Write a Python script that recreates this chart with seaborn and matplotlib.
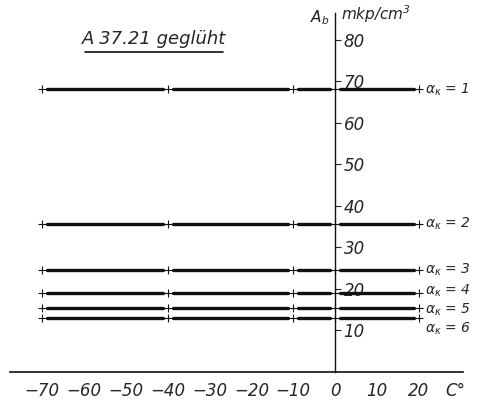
import pandas as pd
import matplotlib.pyplot as plt
import seaborn as sns
from matplotlib.lines import Line2D

# data
temps = [-70, -40, -10, 0, 20]            # measuring temperatures, C°
impact = [68, 35.7, 24.5, 19, 15.5, 13]   # A_b in mkp/cm3
alpha_k = [1, 2, 3, 4, 5, 6]
x_ticks = [-70, -60, -50, -40, -30, -20, -10, 0, 10, 20]
y_ticks = [10, 20, 30, 40, 50, 60, 70, 80]

sns.set_style('white')
plt.rcParams['font.family'] = ['DejaVu Sans']
plt.rcParams['font.style'] = 'italic'
plt.rcParams['mathtext.default'] = 'it'

# split each line into pieces between the measuring points (small gap at each +)
gap = 1.2
rows = []
for a, val in zip(alpha_k, impact):
    for i in range(len(temps) - 1):
        seg = f'{a}-{i}'
        rows.append({'T': temps[i] + gap, 'A': val, 'seg': seg})
        rows.append({'T': temps[i + 1] - gap, 'A': val, 'seg': seg})
seg_df = pd.DataFrame(rows)
pts = pd.DataFrame([{'T': t, 'A': val} for val in impact for t in temps])

fig = plt.figure(figsize=(4.79, 4.05), dpi=100)
ax = fig.add_axes([10 / 479, 33 / 405, 453 / 479, 359 / 405])

sns.lineplot(data=seg_df, x='T', y='A', units='seg', estimator=None, sort=False,
             color='#111111', lw=2.4, ax=ax, legend=False)
sns.scatterplot(data=pts, x='T', y='A', marker='+', s=30, color='#111111',
                linewidth=0.8, ax=ax, legend=False, zorder=3)

ax.set_xlim(-77.6, 30.5)
ax.set_ylim(0, 86.4)
ax.set_xlabel('')
ax.set_ylabel('')

for s in ['top', 'left']:
    ax.spines[s].set_visible(False)
ax.spines['right'].set_position(('data', 0))
ax.spines['right'].set_color('#111111')
ax.spines['bottom'].set_color('#111111')
ax.spines['right'].set_linewidth(1.0)
ax.spines['bottom'].set_linewidth(1.2)

ax.yaxis.tick_right()
ax.set_yticks(y_ticks)
ax.set_yticklabels([str(v) for v in y_ticks])
ax.set_xticks(x_ticks)
ax.set_xticklabels([str(v).replace('-', '\u2212') for v in x_ticks])
ax.tick_params(axis='y', direction='out', length=4, width=0.8, pad=2, labelsize=12)
ax.tick_params(axis='x', direction='in', length=3, width=0.8, pad=7, labelsize=12)

# curve labels (the lower ones pushed apart a little so they stay readable)
label_dy = {4: 1.5, 5: -1.8, 6: -7.5}
for a, val in zip(alpha_k, impact):
    ax.annotate(r'$\alpha_\kappa$ = %d' % a, xy=(temps[-1], val),
                xytext=(4, label_dy.get(a, 0)), textcoords='offset points',
                va='center', ha='left', fontsize=10)

# axis captions
ax.annotate('C°', xy=(28.6, 0), xytext=(0, -7), textcoords='offset points',
            ha='center', va='top', fontsize=12)
ax.annotate(r'$A_b$', xy=(0, 86.4), xytext=(-4, -3), textcoords='offset points',
            ha='right', va='center', fontsize=11)
ax.annotate(r'mkp/cm$^3$', xy=(0, 86.4), xytext=(4, -1), textcoords='offset points',
            ha='left', va='center', fontsize=11)

# title with underline
fig.text(154 / 479, 1 - 39 / 405, 'A 37.21 geglüht', ha='center', va='center', fontsize=13)
fig.add_artist(Line2D([85 / 479, 223 / 479], [1 - 52 / 405, 1 - 52 / 405],
                      color='#111111', lw=1.2))

fig.savefig('out.png', dpi=100)
